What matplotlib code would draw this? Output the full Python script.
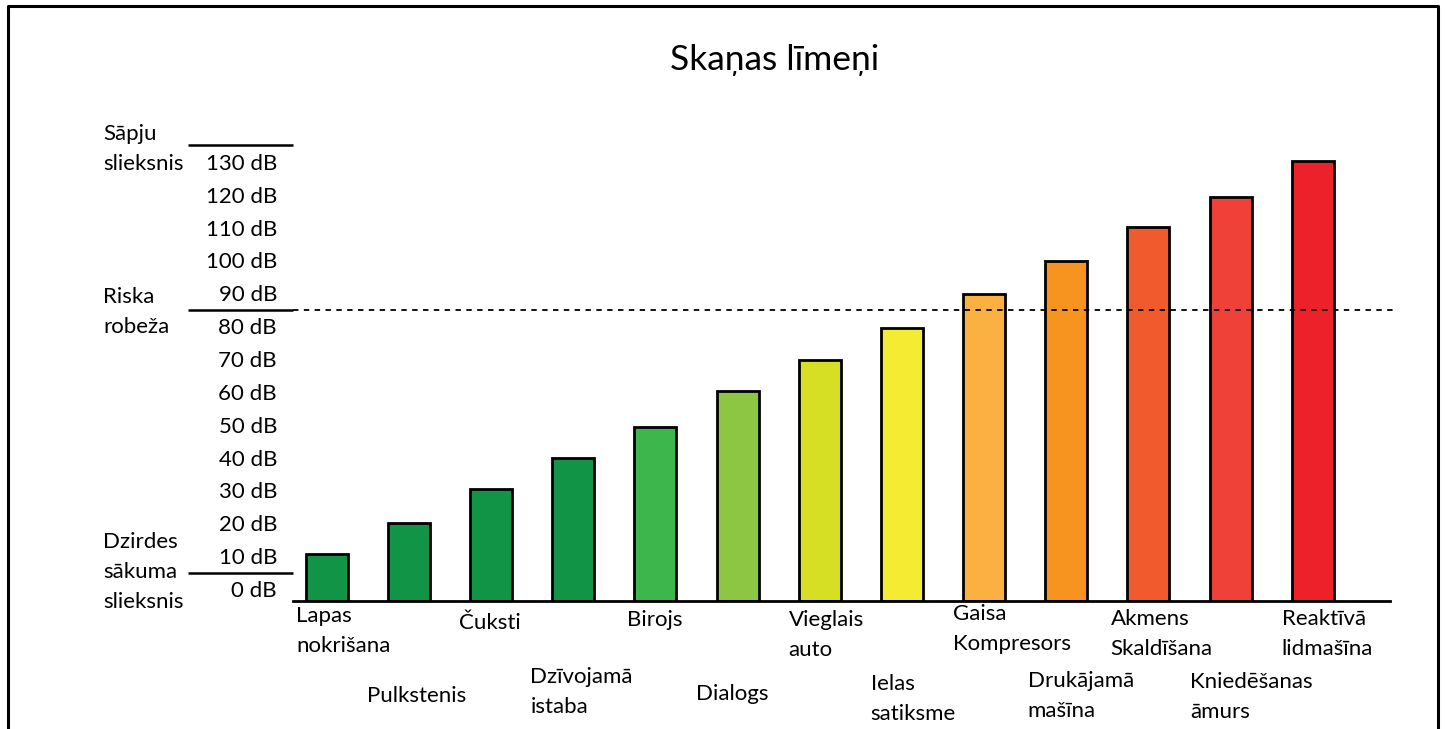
import numpy as np
import matplotlib.pyplot as plt
from matplotlib.lines import Line2D

plt.rcParams['font.family'] = ['Lato', 'DejaVu Sans']

# data
sources = ["Lapas\nnokrišana", "Pulkstenis", "Čuksti", "Dzīvojamā\nistaba", "Birojs",
           "Dialogs", "Vieglais\nauto", "Ielas\nsatiksme", "Gaisa\nKompresors",
           "Drukājamā\nmašīna", "Akmens\nSkaldīšana", "Kniedēšanas\nāmurs",
           "Reaktīvā\nlidmašīna"]
levels_db = [10.6, 20.2, 30.5, 39.8, 49.3, 60.2, 69.6, 79.5, 89.8, 99.8, 110.2, 119.4, 130.3]
tick_db = list(range(0, 140, 10))
tick_labels = [f"{v} dB" for v in tick_db]
thresholds = [135, 85, 5]
threshold_names = ["Sāpju\nslieksnis", "Riska\nrobeža", "Dzirdes\nsākuma\nslieksnis"]
risk_db = 85

colors = ["#129447", "#129447", "#129447", "#129447", "#3db64b", "#8dc642",
          "#d6df24", "#f4ec33", "#fbb042", "#f7941f", "#f15a2c", "#ef4138", "#ec2129"]

# label layout (x offset from bar centre, first-line baseline in pixels from top)
label_dx = [-0.37, -0.51, -0.39, -0.52, -0.35, -0.50, -0.38, -0.38, -0.38, -0.47, -0.46, -0.49, -0.38]
label_base = [622, 702, 629, 683, 626, 700, 626, 690, 620, 687, 625, 688, 625]
name_base = [140, 303, 548]
LINE = 30  # px between lines

W, H = 1445, 729
fig = plt.figure(figsize=(W / 100, H / 100), dpi=100)
ax = fig.add_axes([293 / W, 1 - 601 / H, (1390 - 293) / W, (601 - 129) / H])

ybot = -3.65
x = np.arange(len(levels_db))
vals = np.array(levels_db)
ax.bar(x, vals - ybot, bottom=ybot, width=0.51, color=colors,
       edgecolor="black", linewidth=2)

ax.set_xlim(-0.41, 12.94)
ax.set_ylim(ybot, 140)
ax.set_xticks([])
ax.set_yticks(tick_db)
ax.set_yticklabels(tick_labels, fontsize=16)
ax.tick_params(axis="y", length=0, pad=11.5)
for s in ["left", "right", "top"]:
    ax.spines[s].set_visible(False)
ax.spines["bottom"].set_linewidth(2)

# risk line
ax.axhline(risk_db, xmin=0, xmax=1.003, color="black", lw=1.3, ls=(0, (3, 3)), clip_on=False)


def put_lines(px, yb, text):
    for k, line in enumerate(text.split("\n")):
        fig.text(px / W, 1 - (yb + k * LINE) / H, line, fontsize=16,
                 ha="left", va="baseline")


# threshold marks on the left
ytr = ax.get_yaxis_transform()
for t in thresholds:
    ax.plot([(188 - 293) / (1390 - 293), 0], [t, t], color="black", lw=1.8,
            transform=ytr, clip_on=False, solid_capstyle="butt")
for name, yb in zip(threshold_names, name_base):
    put_lines(103, yb, name)

# category labels
for i, (lab, dx, yb) in enumerate(zip(sources, label_dx, label_base)):
    px = ax.transData.transform((i + dx, 0))[0]
    put_lines(px, yb, lab)

fig.text(775 / W, 1 - 60 / H, "Skaņas līmeņi", fontsize=25.5, ha="center", va="center")

# frame around the figure
fig.add_artist(Line2D([8 / W, 8 / W, 1438 / W, 1438 / W], [0, 1 - 6 / H, 1 - 6 / H, 0],
                      transform=fig.transFigure, color="black", lw=2.2))

fig.savefig("out.png", dpi=100)
